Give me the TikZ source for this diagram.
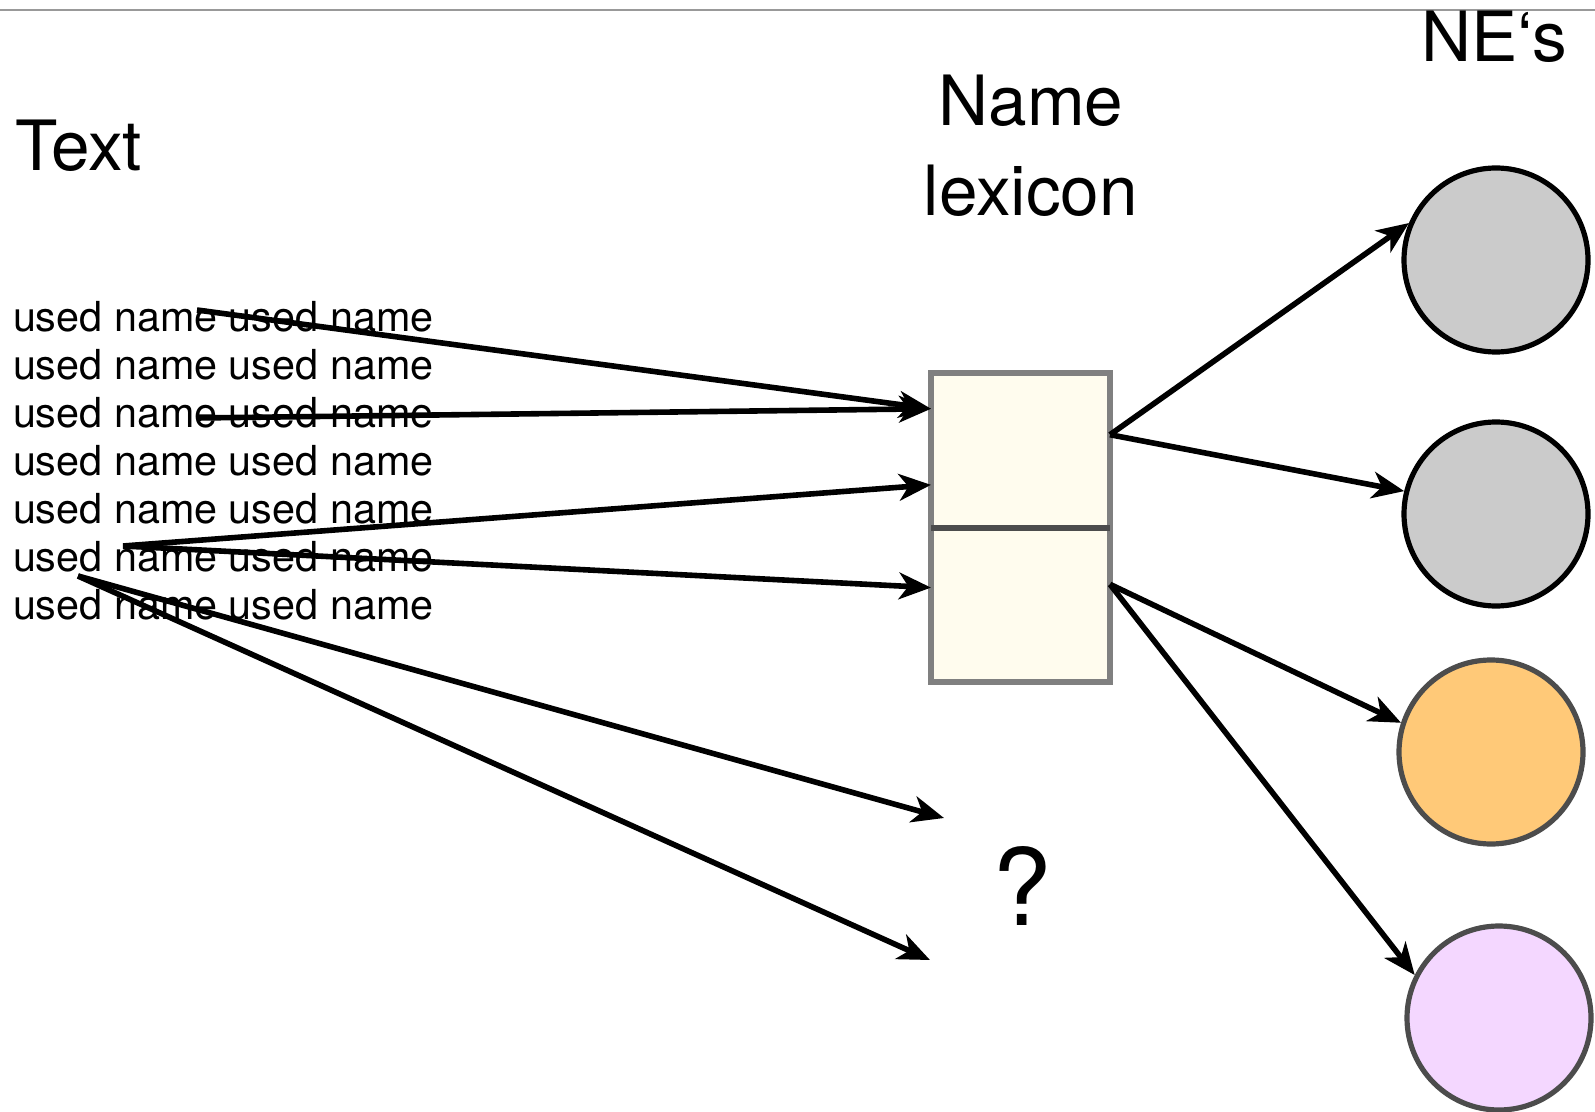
\documentclass[tikz,border=0pt]{standalone}
\usepackage{fontspec}
\setmainfont{TeX Gyre Heros}
\usetikzlibrary{arrows.meta}
\newlength{\du}
\setlength{\du}{15\unitlength}
\definecolor{toplinecolor}{rgb}{0.600000, 0.600000, 0.600000}
\definecolor{lexborder}{rgb}{0.500000, 0.500000, 0.500000}
\definecolor{lexfill}{rgb}{1.000000, 0.988000, 0.933000}
\definecolor{lexdivider}{rgb}{0.300000, 0.300000, 0.300000}
\definecolor{negrey}{rgb}{0.796000, 0.796000, 0.796000}
\definecolor{neorange}{rgb}{1.000000, 0.788000, 0.471000}
\definecolor{nelilac}{rgb}{0.957000, 0.843000, 1.000000}
\definecolor{nerim}{rgb}{0.300000, 0.300000, 0.300000}

\begin{document}
\begin{tikzpicture}[
  usedline/.style={anchor=base west, inner sep=0pt, font=\fontsize{15.5}{18}\selectfont},
  headline/.style={inner sep=0pt, font=\fontsize{26}{33.75}\selectfont},
  lexpart/.style={rectangle, draw=lexborder, fill=lexfill, line width=0.13\du, inner sep=0pt, outer sep=0pt, minimum width=4.475\du, minimum height=3.875\du},
  nebubble/.style={circle, line width=0.13\du, inner sep=0pt, minimum size=4.6\du},
  link/.style={line width=0.14\du, -{Stealth[length=12pt,width=10pt,inset=3.5pt]}}
]
\pgftransformxscale{1.000000}
\pgftransformyscale{-1.000000}
\pgfsetlinewidth{0.100000\du}
\useasboundingbox (0.000000\du,0.000000\du) rectangle (39.875000\du,27.800000\du);
% top rule
\draw[color=toplinecolor, line width=0.05\du] (0.000000\du,0.262500\du)--(39.875000\du,0.262500\du);
% setfont left to latex
\node[headline, anchor=base west] (textlabel) at (0.337500\du,4.275000\du){Text};
\node[headline, anchor=base, align=center] (lexlabel) at (25.775000\du,5.390000\du){Name\\lexicon};
\node[headline, anchor=base west] (nelabel) at (35.475000\du,1.550000\du){NE‘s};
% setfont left to latex
\node[usedline] (use1) at (0.275000\du,8.287500\du){used name used name};
\node[usedline] (use2) at (0.275000\du,9.487500\du){used name used name};
\node[usedline] (use3) at (0.275000\du,10.687500\du){used name used name};
\node[usedline] (use4) at (0.275000\du,11.887500\du){used name used name};
\node[usedline] (use5) at (0.275000\du,13.087500\du){used name used name};
\node[usedline] (use6) at (0.275000\du,14.287500\du){used name used name};
\node[usedline] (use7) at (0.275000\du,15.487500\du){used name used name};
% lexicon box
\node[lexpart] (lexup) at (25.512500\du,11.262500\du){};
\node[lexpart, minimum height=3.850000\du] (lexlo) at (25.512500\du,15.125000\du){};
\draw[color=lexdivider, line width=0.13\du] (lexup.south west)--(lexup.south east);
% NE bubbles
\node[nebubble, draw=black, fill=negrey] (ne1) at (37.400000\du,6.500000\du){};
\node[nebubble, draw=black, fill=negrey] (ne2) at (37.400000\du,12.850000\du){};
\node[nebubble, draw=nerim, fill=neorange] (ne3) at (37.275000\du,18.800000\du){};
\node[nebubble, draw=nerim, fill=nelilac] (ne4) at (37.475000\du,25.450000\du){};
% setfont left to latex
\node[font=\fontsize{40}{48}\selectfont, inner sep=0pt, anchor=base] (qmark) at (25.550000\du,23.125000\du){?};
% free ends
\coordinate (src1) at (4.925000\du,7.750000\du);
\coordinate (src2) at (4.925000\du,10.450000\du);
\coordinate (src3) at (3.075000\du,13.650000\du);
\coordinate (src4) at (1.950000\du,14.400000\du);
\coordinate (miss1) at (23.600000\du,20.450000\du);
\coordinate (miss2) at (23.250000\du,24.000000\du);
% text to lexicon
\draw[link] (src1)--(lexup.155);
\draw[link] (src2)--(lexup.155);
\draw[link] (src3)--(lexup.201);
\draw[link] (src3)--(lexlo.169);
\draw[link] (src4)--(miss1);
\draw[link] (src4)--(miss2);
% lexicon to NE's
\draw[link] (lexup.10)--(ne1.157);
\draw[link] (lexup.10)--(ne2.166);
\draw[link] (lexlo.13)--(ne3.162);
\draw[link] (lexlo.13)--(ne4.153);
\end{tikzpicture}
\end{document}
